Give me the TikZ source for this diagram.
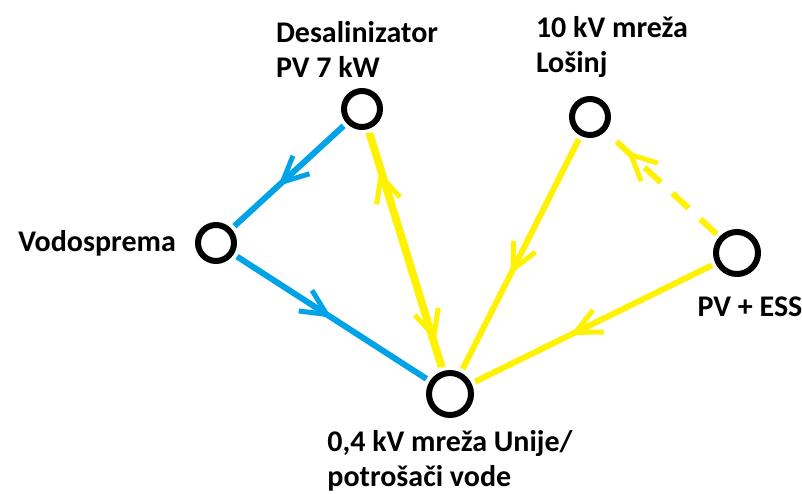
\documentclass[tikz,border=0pt]{standalone}
\usepackage{fontspec}
\setmainfont{Carlito}
\usetikzlibrary{positioning,decorations.markings}
\definecolor{paintblue}{RGB}{0,162,232}
\definecolor{paintyellow}{RGB}{255,242,0}

\begin{document}
\begin{tikzpicture}[x=1pt, y=-1pt,
    point/.style={circle, draw=black, line width=6pt, fill=white, minimum size=36pt, inner sep=0pt},
    bigpoint/.style={point, minimum size=42pt},
    txt/.style={font=\fontsize{30}{35}\selectfont\bfseries, align=left, inner sep=0pt},
    blueline/.style={draw=paintblue, line width=6pt, shorten <=4pt, shorten >=4pt},
    yellowline/.style={blueline, draw=paintyellow},
    midarrow/.style={postaction={decorate}, decoration={markings, mark=at position #1 with {\draw[solid, line width=5pt] (-28pt,14pt) -- (1pt,0pt) -- (-28pt,-14pt);}}},
    backarrow/.style={postaction={decorate}, decoration={markings, mark=at position #1 with {\draw[solid, line width=5pt] (28pt,14pt) -- (-1pt,0pt) -- (28pt,-14pt);}}}
]
\useasboundingbox (0,0) rectangle (802,494);
\node[point](desal) at (362,109){};
\node[point](losinj) at (590,117){};
\node[bigpoint](pvess) at (737,253){};
\node[point](vodo) at (216,243){};
\node[bigpoint](unije) at (450,394){};
\node[txt](desaltxt)[above=10pt of desal, xshift=-5pt]{Desalinizator\\PV 7 kW};
\node[txt](losinjtxt)[above=18pt of losinj, xshift=22pt]{10 kV mreža\\Lošinj};
\node[txt](vodotxt)[left=19pt of vodo]{Vodosprema};
\node[txt](pvesstxt)[below=20pt of pvess, xshift=13pt]{PV + ESS};
\node[txt](unijetxt)[below=12pt of unije]{0,4 kV mreža Unije/\\potrošači vode};
\draw[blueline, midarrow=0.55] (desal) -- (vodo);
\draw[blueline, midarrow=0.47] (vodo) -- (unije);
\draw[yellowline, line width=4pt, backarrow=0.2, transform canvas={xshift=-2pt}] (desal) -- (unije);
\draw[yellowline, line width=4pt, midarrow=0.85, transform canvas={xshift=2pt}] (desal) -- (unije);
\draw[yellowline, midarrow=0.56] (losinj) -- (unije);
\draw[yellowline, midarrow=0.57] (pvess) -- (unije);
\draw[yellowline, dash pattern=on 22pt off 16pt, midarrow=0.77] (pvess) -- (losinj);
\end{tikzpicture}
\end{document}
